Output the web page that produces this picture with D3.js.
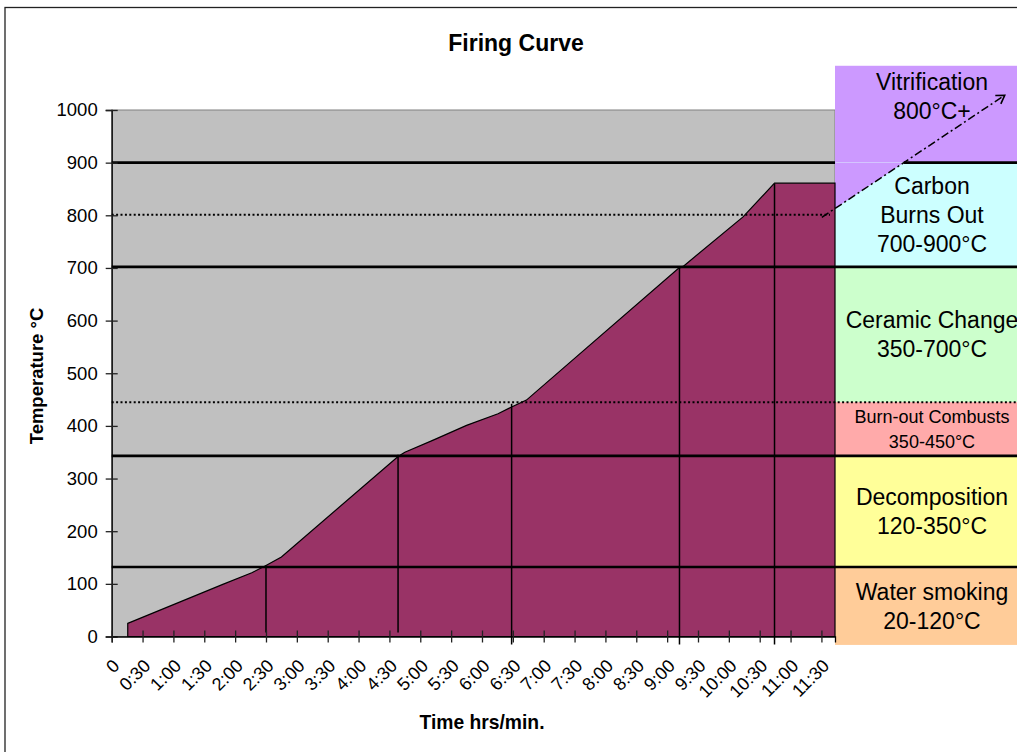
<!DOCTYPE html>
<html>
<head>
<meta charset="utf-8">
<script src="https://cdn.jsdelivr.net/npm/d3@7"></script>
<style>
  body { margin: 0; background: #fff; }
  text { font-family: "Liberation Sans", Arial, sans-serif; }
</style>
</head>
<body>
<div id="chart"></div>
<script>
// firing curve readings (hours, °C)
const curveTimes = [0.26, 1.80, 2.27, 2.50, 2.75, 4.64, 4.75, 5.21, 5.75, 6.26, 6.48, 6.72, 9.18, 9.26, 10.23, 10.74, 11.72];
const curveTemps = [25, 99, 121, 135, 151, 342, 350, 373, 401, 423, 436, 449, 699, 703, 797, 861, 861];

// vertical markers dropped from the curve
const dropTimes = [2.50, 4.64, 6.48, 9.20, 10.74];
const dropTemps = [135, 345, 442, 700, 860];

const timeLabels = ["0", "0:30", "1:00", "1:30", "2:00", "2:30", "3:00", "3:30", "4:00", "4:30", "5:00", "5:30",
  "6:00", "6:30", "7:00", "7:30", "8:00", "8:30", "9:00", "9:30", "10:00", "10:30", "11:00", "11:30"];
const tempTicks = [0, 100, 200, 300, 400, 500, 600, 700, 800, 900, 1000];

// stage bands on the right
const bandLines = [
  ["Vitrification", "800°C+"],
  ["Carbon", "Burns Out", "700-900°C"],
  ["Ceramic Change", "350-700°C"],
  ["Burn-out Combusts", "350-450°C"],
  ["Decomposition", "120-350°C"],
  ["Water smoking", "20-120°C"]
];
const bandColors = ["#CC99FF", "#CCFFFF", "#CCFFCC", "#FFAAAA", "#FFFF99", "#FFCC99"];
const bandEdges = [1084, 900, 702, 445, 343, 132, -16];

const solidLevels = [900, 702, 343, 132];
const dottedLevels = [801, 445];
const arrowFrom = [11.62, 805];
const arrowTo = [14.47, 1028];

const W = 1017, H = 752;
const margin = { left: 111.7, top: 110, plotRight: 835, bottom: 636.5 };

const parseTime = s => {
  const [h, m] = s.split(":");
  return +h + (m ? +m / 60 : 0);
};

const svg = d3.select("#chart").append("svg")
  .attr("width", W).attr("height", H);

const x = d3.scaleLinear()
  .domain([0, d3.max(curveTimes)])
  .range([margin.left, margin.plotRight]);
const y = d3.scaleLinear()
  .domain([0, 1000])
  .range([margin.bottom, margin.top]);

// outer border
svg.append("rect")
  .attr("x", 5).attr("y", 7.5)
  .attr("width", 1100).attr("height", 800)
  .attr("fill", "none").attr("stroke", "#222").attr("stroke-width", 1.3);

// title
svg.append("text")
  .attr("x", 516).attr("y", 51)
  .attr("text-anchor", "middle")
  .style("font-size", "23px").style("font-weight", "bold")
  .text("Firing Curve");

// plot background
svg.append("rect")
  .attr("x", x(0)).attr("y", y(1000))
  .attr("width", x.range()[1] - x(0)).attr("height", y(0) - y(1000))
  .attr("fill", "#C0C0C0").attr("stroke", "#808080");

// bands
const bandX = margin.plotRight;
const bandW = 200;
const x0a = x(arrowFrom[0]), y0a = y(arrowFrom[1]);
const x1a = x(arrowTo[0]), y1a = y(arrowTo[1]);
const arrowLine = t => y0a + (t - x0a) * (y1a - y0a) / (x1a - x0a);
const y900 = y(bandEdges[1]);
const cornerX = x0a + (y900 - y0a) * (x1a - x0a) / (y1a - y0a);

bandColors.forEach((c, i) => {
  const top = y(bandEdges[i]);
  const bottom = y(bandEdges[i + 1]);
  svg.append("rect")
    .attr("x", bandX).attr("y", top)
    .attr("width", bandW).attr("height", bottom - top)
    .attr("fill", c);
});
// purple wedge above the arrow line
svg.append("path")
  .attr("d", `M${bandX},${y900} L${cornerX},${y900} L${bandX},${arrowLine(bandX)} Z`)
  .attr("fill", bandColors[0]);

// curve area
const curve = curveTimes.map((t, i) => ({ t, temp: curveTemps[i] }));
const area = d3.area()
  .x(d => x(d.t))
  .y0(y(0))
  .y1(d => y(d.temp));

svg.append("path")
  .datum(curve)
  .attr("d", area)
  .attr("fill", "#993366")
  .attr("stroke", "#000")
  .attr("stroke-width", 1.2);

// drop lines
dropTimes.forEach((t, i) => {
  svg.append("line")
    .attr("x1", x(t)).attr("x2", x(t))
    .attr("y1", y(dropTemps[i]))
    .attr("y2", y(0) + (i < 2 ? -4 : 8))
    .attr("stroke", "#000").attr("stroke-width", 1.5);
});

// level lines
solidLevels.forEach(v => {
  const segs = v === 900 ? [[x(0), bandX], [cornerX, W]] : [[x(0), W]];
  segs.forEach(([a, b]) => {
    svg.append("line")
      .attr("x1", a).attr("x2", b)
      .attr("y1", y(v)).attr("y2", y(v))
      .attr("stroke", "#000").attr("stroke-width", 2.6);
  });
});
dottedLevels.forEach((v, i) => {
  svg.append("line")
    .attr("x1", x(0)).attr("x2", i === 0 ? bandX - 5 : W)
    .attr("y1", y(v)).attr("y2", y(v))
    .attr("stroke", "#000").attr("stroke-width", 2)
    .attr("stroke-dasharray", "2,2.4");
});

// dash-dot arrow into vitrification
svg.append("defs").append("marker")
  .attr("id", "arrow")
  .attr("viewBox", "-10 -6 12 12")
  .attr("refX", 0).attr("refY", 0)
  .attr("markerWidth", 12).attr("markerHeight", 12)
  .attr("markerUnits", "userSpaceOnUse")
  .attr("orient", "auto")
  .append("path")
  .attr("d", "M-8,-5 L0,0 L-8,5")
  .attr("fill", "none").attr("stroke", "#000").attr("stroke-width", 1.6);

svg.append("line")
  .attr("x1", x0a - 7).attr("y1", arrowLine(x0a - 7))
  .attr("x2", x1a).attr("y2", y1a)
  .attr("stroke", "#000").attr("stroke-width", 1.5)
  .attr("stroke-dasharray", "8,3,2,3")
  .attr("marker-end", "url(#arrow)");

// band text
bandLines.forEach((lines, i) => {
  const top = y(bandEdges[i]);
  const bottom = y(bandEdges[i + 1]);
  const small = i === 3;
  const fs = small ? 18 : 23;
  const lh = small ? 25 : 29;
  const cy = i === 0 ? top + 31 : (top + bottom) / 2;
  lines.forEach((s, j) => {
    svg.append("text")
      .attr("x", 932)
      .attr("y", cy + (j - (lines.length - 1) / 2) * lh)
      .attr("dy", "0.35em")
      .attr("text-anchor", "middle")
      .style("font-size", fs + "px")
      .text(s);
  });
});

// axes
const yAxis = svg.append("g")
  .attr("transform", `translate(${x(0)},0)`)
  .call(d3.axisLeft(y).tickValues(tempTicks).tickFormat(d3.format("d")).tickSize(6).tickPadding(8));
yAxis.select(".domain").attr("stroke", "#000").attr("stroke-width", 1.3);
yAxis.selectAll(".tick line").attr("x1", 6).attr("stroke", "#222").attr("stroke-width", 1.3);
yAxis.selectAll("text")
  .style("font-size", "18.5px")
  .style("font-family", "'Liberation Sans', Arial, sans-serif")
  .attr("fill", "#000");

const xAxis = svg.append("g")
  .attr("transform", `translate(0,${y(0)})`)
  .call(d3.axisBottom(x)
    .tickValues(timeLabels.map(parseTime))
    .tickFormat((d, i) => timeLabels[i])
    .tickSize(6));
xAxis.select(".domain").attr("stroke", "#000").attr("stroke-width", 1.3);
xAxis.selectAll(".tick line").attr("y1", -6).attr("stroke", "#222").attr("stroke-width", 1.3);
xAxis.selectAll("text")
  .attr("x", 0).attr("y", 0)
  .attr("dy", "0.35em")
  .attr("text-anchor", "end")
  .attr("transform", "translate(4,26) rotate(-45)")
  .style("font-size", "18px")
  .style("font-family", "'Liberation Sans', Arial, sans-serif")
  .attr("fill", "#000");

// axis titles
svg.append("text")
  .attr("transform", "translate(43,376) rotate(-90)")
  .attr("text-anchor", "middle")
  .style("font-size", "18.5px").style("font-weight", "bold")
  .text("Temperature °C");

svg.append("text")
  .attr("x", 482).attr("y", 729)
  .attr("text-anchor", "middle")
  .style("font-size", "19.3px").style("font-weight", "bold")
  .text("Time hrs/min.");
</script>
</body>
</html>
